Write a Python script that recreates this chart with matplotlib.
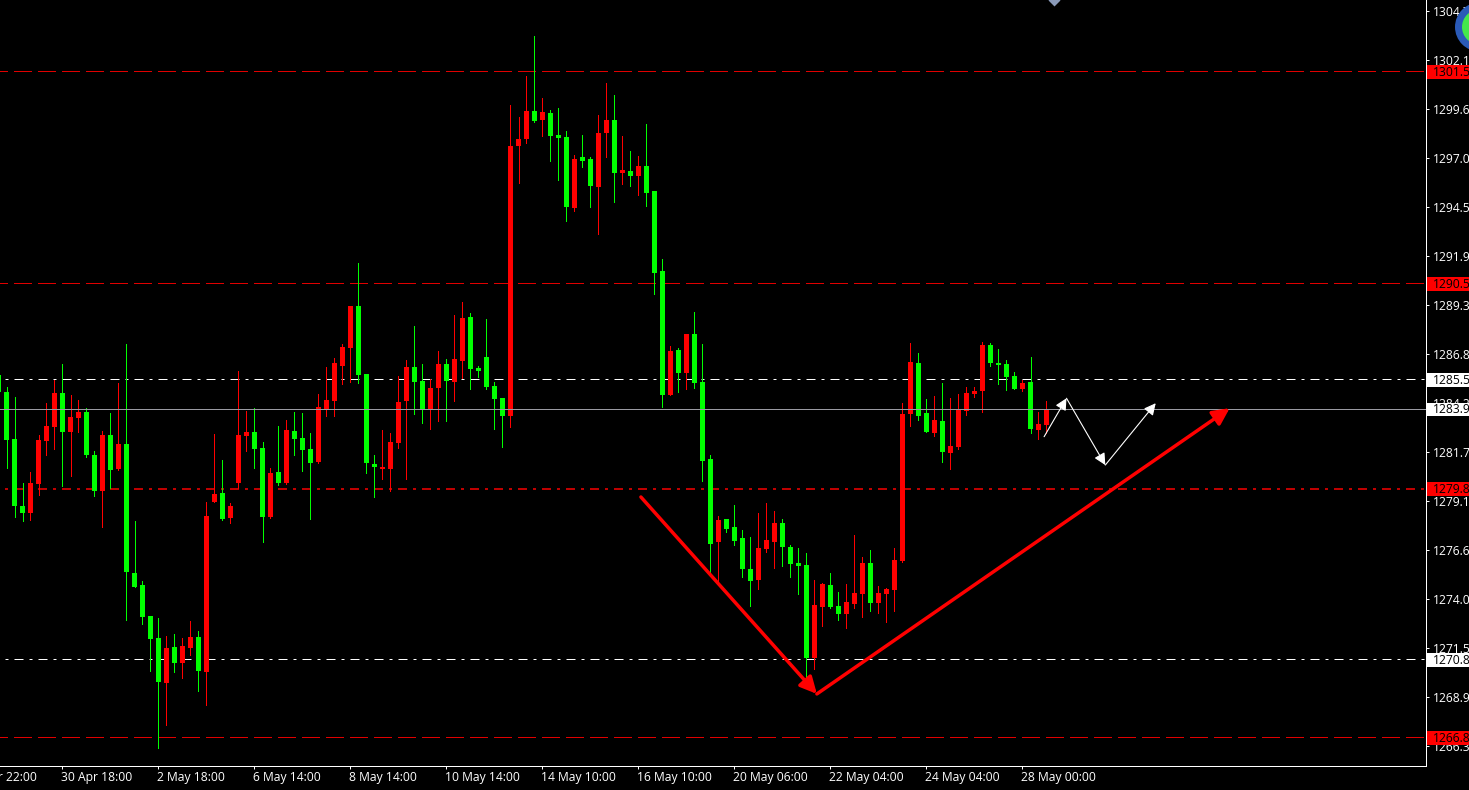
import numpy as np
import matplotlib
matplotlib.use("Agg")
import matplotlib.pyplot as plt
from matplotlib.lines import Line2D
from matplotlib.patches import Circle, Rectangle
from matplotlib.transforms import ScaledTranslation

# H4 candles, first one is cut by the left edge
candle_open = [1285.69, 1284.80, 1282.34, 1278.84, 1278.48, 1279.99, 1282.24, 1282.97, 1284.75, 1282.71, 1283.44,
    1283.75, 1281.51, 1279.63, 1282.55, 1280.77, 1282.08, 1275.34, 1274.71, 1273.09, 1271.94, 1269.59, 1271.47,
    1270.64, 1271.42, 1272.00, 1270.17, 1279.05, 1279.52, 1278.21, 1280.04, 1282.50, 1282.71, 1281.87, 1278.27,
    1280.62, 1280.04, 1282.76, 1282.39, 1281.82, 1281.14, 1283.91, 1284.33, 1286.16, 1287.10, 1289.29, 1285.74,
    1281.04, 1280.77, 1280.77, 1282.13, 1284.33, 1286.10, 1285.37, 1283.86, 1285.01, 1286.26, 1285.32, 1286.42,
    1288.72, 1286.05, 1286.63, 1285.11, 1284.48, 1283.54, 1297.65, 1298.02, 1299.48, 1299.01, 1299.38, 1298.23,
    1298.12, 1294.41, 1297.08, 1296.97, 1295.51, 1298.33, 1299.01, 1296.24, 1296.35, 1296.08, 1296.61, 1295.30,
    1291.12, 1284.64, 1286.99, 1285.79, 1287.83, 1285.32, 1281.30, 1276.96, 1278.16, 1277.74, 1277.17, 1275.55,
    1274.97, 1276.59, 1276.96, 1277.95, 1276.70, 1275.86, 1275.76, 1270.90, 1273.56, 1274.71, 1273.62, 1273.20,
    1273.72, 1274.24, 1275.86, 1273.77, 1274.24, 1274.45, 1275.97, 1283.65, 1286.31, 1283.70, 1282.66, 1283.28,
    1281.61, 1281.92, 1283.81, 1284.69, 1284.85, 1287.25, 1286.31, 1286.26, 1285.63, 1284.95, 1285.32, 1282.81,
    1283.07]
candle_high = [1285.69, 1285.06, 1284.54, 1280.04, 1280.62, 1282.55, 1284.22, 1285.42, 1286.26, 1284.64, 1284.38,
    1283.96, 1281.72, 1282.76, 1283.70, 1285.27, 1287.31, 1278.06, 1274.92, 1273.09, 1272.99, 1272.05, 1272.15,
    1271.94, 1272.83, 1272.31, 1279.05, 1282.60, 1281.24, 1279.00, 1285.90, 1283.81, 1283.96, 1282.19, 1280.83,
    1283.02, 1283.33, 1283.75, 1283.70, 1282.66, 1284.69, 1286.10, 1286.57, 1287.31, 1289.29, 1291.54, 1285.74,
    1281.51, 1282.81, 1282.66, 1285.63, 1286.47, 1288.25, 1286.26, 1285.48, 1286.94, 1286.52, 1288.82, 1289.50,
    1288.93, 1286.16, 1288.61, 1285.32, 1284.48, 1299.79, 1299.17, 1301.31, 1303.40, 1300.16, 1299.53, 1299.64,
    1298.44, 1297.18, 1298.23, 1297.08, 1299.27, 1300.94, 1300.32, 1298.17, 1297.39, 1297.13, 1298.80, 1295.30,
    1291.75, 1287.20, 1287.10, 1287.83, 1288.98, 1287.31, 1281.51, 1278.32, 1278.16, 1278.89, 1277.59, 1277.22,
    1278.48, 1279.00, 1278.58, 1278.16, 1276.80, 1276.65, 1276.39, 1274.97, 1274.82, 1275.34, 1274.35, 1274.77,
    1277.33, 1276.18, 1276.54, 1274.66, 1274.56, 1276.65, 1284.22, 1287.36, 1286.84, 1284.43, 1284.59, 1285.27,
    1284.48, 1284.69, 1285.06, 1285.06, 1287.41, 1287.36, 1287.04, 1286.47, 1285.84, 1285.42, 1286.63, 1283.75,
    1284.33]
candle_low = [1284.80, 1280.83, 1278.27, 1278.06, 1278.11, 1279.42, 1281.51, 1281.82, 1279.89, 1280.41, 1282.71,
    1281.40, 1279.36, 1277.74, 1279.78, 1280.72, 1272.88, 1274.61, 1272.68, 1270.22, 1266.20, 1267.40, 1270.17,
    1269.85, 1271.06, 1269.18, 1268.44, 1279.05, 1278.11, 1277.95, 1279.78, 1281.72, 1280.83, 1276.96, 1278.21,
    1279.94, 1279.99, 1281.51, 1280.67, 1278.16, 1281.09, 1283.54, 1283.54, 1285.22, 1285.32, 1285.27, 1280.57,
    1279.31, 1280.25, 1279.63, 1281.87, 1280.25, 1283.65, 1283.18, 1282.86, 1283.28, 1283.28, 1284.33, 1285.53,
    1284.95, 1285.58, 1284.95, 1282.86, 1281.92, 1282.97, 1295.72, 1297.81, 1298.91, 1298.17, 1296.87, 1295.87,
    1293.73, 1294.26, 1296.55, 1294.46, 1293.05, 1297.08, 1294.73, 1295.67, 1295.56, 1295.09, 1294.52, 1289.92,
    1284.01, 1284.64, 1284.80, 1284.95, 1285.01, 1280.15, 1275.34, 1274.82, 1277.48, 1276.80, 1275.13, 1273.62,
    1274.50, 1276.44, 1275.60, 1275.71, 1275.13, 1274.24, 1269.75, 1270.32, 1272.57, 1273.51, 1272.88, 1272.47,
    1273.51, 1273.04, 1273.36, 1273.25, 1272.78, 1273.36, 1275.92, 1283.02, 1283.33, 1282.71, 1282.50, 1281.14,
    1280.77, 1281.82, 1283.60, 1284.54, 1283.75, 1286.16, 1285.22, 1284.90, 1284.95, 1284.85, 1282.66, 1282.34,
    1282.66]
candle_close = [1284.80, 1282.29, 1278.84, 1278.48, 1280.04, 1282.29, 1283.02, 1284.75, 1282.71, 1283.49, 1283.75,
    1281.51, 1279.63, 1282.55, 1280.72, 1282.08, 1275.39, 1274.61, 1273.04, 1271.89, 1269.65, 1271.42, 1270.64,
    1271.53, 1272.00, 1270.22, 1278.32, 1279.47, 1278.16, 1278.84, 1282.55, 1282.71, 1281.82, 1278.27, 1280.57,
    1280.04, 1282.81, 1282.34, 1281.77, 1281.09, 1284.01, 1284.38, 1286.31, 1287.15, 1289.29, 1285.69, 1281.09,
    1280.88, 1280.88, 1282.19, 1284.28, 1286.10, 1285.32, 1283.86, 1285.01, 1286.26, 1285.37, 1286.52, 1288.66,
    1286.00, 1285.90, 1285.06, 1284.43, 1283.54, 1297.65, 1298.02, 1299.48, 1298.96, 1299.43, 1298.17, 1298.07,
    1294.46, 1296.97, 1296.87, 1295.56, 1298.33, 1299.01, 1296.24, 1296.40, 1296.08, 1296.61, 1295.20, 1291.02,
    1284.64, 1286.94, 1285.79, 1287.83, 1285.27, 1281.19, 1276.86, 1278.11, 1277.64, 1277.01, 1275.55, 1274.92,
    1276.65, 1277.06, 1277.95, 1276.70, 1275.81, 1275.71, 1270.90, 1273.67, 1274.77, 1273.56, 1273.20, 1273.83,
    1274.30, 1275.86, 1273.77, 1274.30, 1274.50, 1276.02, 1283.65, 1286.37, 1283.54, 1282.71, 1283.33, 1281.66,
    1281.98, 1283.86, 1284.75, 1284.85, 1287.25, 1286.31, 1286.21, 1285.58, 1284.95, 1285.27, 1282.86, 1283.13,
    1283.91]

price_ticks = [1304.68, 1302.12, 1299.56, 1297.00, 1294.44, 1291.88, 1289.32, 1286.76, 1284.20, 1281.64, 1279.08,
    1276.52, 1273.96, 1271.40, 1268.84, 1266.28]
price_labels = ["1304.7", "1302.1", "1299.6", "1297.0", "1294.5", "1291.9", "1289.3", "1286.8", "1284.2", "1281.7",
    "1279.1", "1276.6", "1274.0", "1271.5", "1268.9", "1266.3"]

time_ticks = [7, 19, 31, 43, 55, 67, 79, 91, 103, 115, 127]
time_labels = ["30 Apr 18:00", "2 May 18:00", "6 May 14:00", "8 May 14:00", "10 May 14:00", "14 May 10:00",
    "16 May 10:00", "20 May 06:00", "22 May 04:00", "24 May 04:00", "28 May 00:00"]

# horizontal levels
red_dash_levels = [1301.55, 1290.47, 1266.76]
red_dashdot_levels = [1279.75]
white_dashdot_levels = [1285.45, 1270.83]
last_price = 1283.91

# price boxes on the scale
box_prices = [1301.55, 1290.47, 1285.45, 1283.91, 1279.75, 1270.83, 1266.76]
box_labels = ["1301.5", "1290.5", "1285.5", "1283.9", "1279.8", "1270.8", "1266.8"]
box_colors = ["#ff0000", "#ff0000", "white", "white", "#ff0000", "white", "#ff0000"]

# hand drawn arrows, bar number and price
red_path_x = [79.3, 101.3, 152.9]
red_path_y = [1279.31, 1269.02, 1283.95]
white_path_x = [129.7, 132.5, 137.35, 143.65]
white_path_y = [1282.46, 1284.47, 1280.98, 1284.21]

W, H = 1469, 790
AX_W, AX_H = 1425.5, 765.5
PX = 72 / 100  # one pixel in points
FS = 8.7

plt.rcParams["font.family"] = ["Open Sans", "DejaVu Sans"]
plt.rcParams["lines.scale_dashes"] = False

fig = plt.figure(figsize=(W / 100, H / 100), dpi=100, facecolor="black")
ax = fig.add_axes([0, (H - AX_H) / H, AX_W / W, AX_H / H], facecolor="black")

ax.set_xlim(-6.5 / 8, (AX_W - 6.5) / 8)
ax.set_ylim(1265.28, 1305.28)

# levels sit behind the candles, the red dash-dot one is a little heavier
dash_long = (10 * PX, (18 * PX, 6 * PX))
dash_dot = (10 * PX, (9 * PX, 6 * PX, 3 * PX, 6 * PX))
for lvl in red_dash_levels:
    ax.axhline(lvl, color="#e00000", lw=PX, ls=dash_long, zorder=1, antialiased=False)
for lvl in red_dashdot_levels:
    ax.axhline(lvl, color="#ff0000", lw=1.5 * PX, ls=dash_dot, zorder=1)
for lvl in white_dashdot_levels:
    ax.axhline(lvl, color="white", lw=PX, ls=dash_dot, zorder=1)

o = np.array(candle_open)
h = np.array(candle_high)
l = np.array(candle_low)
c = np.array(candle_close)
x = np.arange(-1, len(o) - 1)
cols = np.where(c >= o, "#ff0000", "#00ff00")

ax.vlines(x, l, h, colors=cols, lw=PX, zorder=2, antialiased=False)
ax.bar(x, np.abs(c - o), bottom=np.minimum(o, c), width=5 / 8, color=cols, linewidth=0, zorder=3, antialiased=False)

ax.axhline(last_price, color="#9a9aa2", lw=PX, zorder=4, antialiased=False)

# arrows
for i in range(len(red_path_x) - 1):
    ax.annotate("", xy=(red_path_x[i + 1], red_path_y[i + 1]), xytext=(red_path_x[i], red_path_y[i]),
                arrowprops=dict(arrowstyle="-|>,head_length=10,head_width=5", mutation_scale=1, color="#ff0000",
                                lw=2.5, shrinkA=0, shrinkB=0), zorder=5)
for i in range(len(white_path_x) - 1):
    ax.annotate("", xy=(white_path_x[i + 1], white_path_y[i + 1]), xytext=(white_path_x[i], white_path_y[i]),
                arrowprops=dict(arrowstyle="-|>,head_length=7,head_width=3.5", mutation_scale=1, color="white",
                                lw=0.8, shrinkA=0, shrinkB=0), zorder=5)

# axes frame
for s in ["top", "left"]:
    ax.spines[s].set_visible(False)
for s in ["right", "bottom"]:
    ax.spines[s].set_color("white")
    ax.spines[s].set_linewidth(PX)

ax.yaxis.tick_right()
ax.set_yticks(price_ticks, price_labels)
ax.tick_params(axis="y", colors="white", length=3 * PX, width=PX, pad=3.0, labelsize=FS)
ax.set_xticks(time_ticks, time_labels, ha="left")
ax.tick_params(axis="x", colors="white", length=3 * PX, width=PX, pad=1.5, labelsize=FS)
shift = ScaledTranslation(-1 * PX / 72, 0, fig.dpi_scale_trans)
for lab in ax.get_xticklabels():
    lab.set_transform(lab.get_transform() + shift)

# first time label starts outside the picture
ax.annotate("26 Apr 22:00", xy=(-5, 0), xycoords=ax.get_xaxis_transform(), xytext=(-1 * PX, -3 * PX - 1.5),
            textcoords="offset points", ha="left", va="top", color="white", fontsize=FS, annotation_clip=False)

trans = ax.get_yaxis_transform()
for price, txt, col in zip(box_prices, box_labels, box_colors):
    ax.add_patch(Rectangle((1427 / AX_W, price - 0.39), 42 / AX_W, 0.72, transform=trans, facecolor=col,
                           edgecolor="none", clip_on=False, zorder=10))
    ax.text(1433 / AX_W, price - 0.05, txt, transform=trans, color="black", fontsize=FS, va="center", ha="left",
            clip_on=False, zorder=11)

# logo in the corner, small marker at the top
fig.add_artist(Circle((14.795, 7.63), 0.245, transform=fig.dpi_scale_trans, facecolor="#2a5ab8", edgecolor="none", zorder=20))
fig.add_artist(Circle((14.795, 7.63), 0.175, transform=fig.dpi_scale_trans, facecolor="#44e84c", edgecolor="none", zorder=21))
ax.plot([131.0], [1305.28], marker="D", ms=6.5, color="#8a9ab8", mec="none", zorder=6)

# light row at the very bottom
fig.add_artist(Line2D([0, 1], [0.5 / H, 0.5 / H], transform=fig.transFigure, color="#e8e8e8", lw=PX))

fig.savefig("out.png", dpi=100, facecolor="black")
